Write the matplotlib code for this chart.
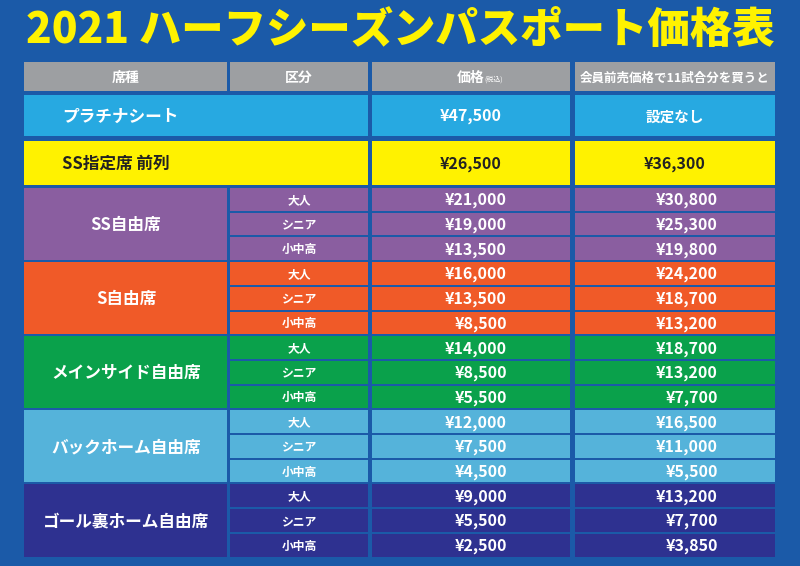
import matplotlib
matplotlib.use('Agg')
import matplotlib.pyplot as plt
from matplotlib.patches import Rectangle

plt.rcParams['font.family'] = ['Noto Sans CJK JP', 'DejaVu Sans']

title = '2021 ハーフシーズンパスポート価格表'
headers = ['席種', '区分', '価格', '会員前売価格で11試合分を買うと']

single_seats = ['プラチナシート', 'SS指定席 前列']
single_price = ['¥47,500', '¥26,500']
single_member = ['設定なし', '¥36,300']
single_colors = ['#27a9e1', '#fff200']

groups = ['SS自由席', 'S自由席', 'メインサイド自由席', 'バックホーム自由席', 'ゴール裏ホーム自由席']
group_colors = ['#8a5ea0', '#f05a28', '#0aa14b', '#55b3da', '#2e3190']
kubun = ['大人', 'シニア', '小中高']
prices = [['¥21,000', '¥19,000', '¥13,500'],
          ['¥16,000', '¥13,500', '¥8,500'],
          ['¥14,000', '¥8,500', '¥5,500'],
          ['¥12,000', '¥7,500', '¥4,500'],
          ['¥9,000', '¥5,500', '¥2,500']]
member = [['¥30,800', '¥25,300', '¥19,800'],
          ['¥24,200', '¥18,700', '¥13,200'],
          ['¥18,700', '¥13,200', '¥7,700'],
          ['¥16,500', '¥11,000', '¥5,500'],
          ['¥13,200', '¥7,700', '¥3,850']]

fig = plt.figure(figsize=(8, 5.66), dpi=100)
fig.patch.set_facecolor('#1b5aa8')
ax = fig.add_axes([0, 0, 1, 1])
ax.set_xlim(0, 800)
ax.set_ylim(566, 0)
ax.axis('off')

cols = [(24, 227), (230, 368), (372, 570), (575, 775)]

def box(x0, x1, y0, y1, c):
    ax.add_patch(Rectangle((x0, y0), x1 - x0, y1 - y0, color=c, lw=0))

ax.text(400, 30, title, ha='center', va='center', fontsize=30.5,
        fontweight='heavy', color='#fff200')

# header
for (x0, x1), h in zip(cols, headers):
    box(x0, x1, 62, 91, '#9d9fa2')
    fs = 9 if len(h) > 4 else 10
    ax.text((x0 + x1) / 2, 78, h, ha='center', va='center', fontsize=fs,
            color='white', fontweight='bold')
ax.text(484, 80, '(税込)', ha='left', va='center', fontsize=5, color='white')

# single rows
rows_y = [(95, 136), (141, 185)]
for i, (y0, y1) in enumerate(rows_y):
    tc = 'white' if i == 0 else '#222222'
    box(cols[0][0], cols[1][1], y0, y1, single_colors[i])
    box(cols[2][0], cols[2][1], y0, y1, single_colors[i])
    box(cols[3][0], cols[3][1], y0, y1, single_colors[i])
    ym = (y0 + y1) / 2 + 1
    ax.text(62, ym, single_seats[i], ha='left', va='center', fontsize=12, color=tc, fontweight='bold')
    ax.text(471, ym, single_price[i], ha='center', va='center', fontsize=11.5, color=tc, fontweight='bold')
    ax.text(675, ym, single_member[i], ha='center', va='center', fontsize=10.5 if i == 0 else 11.5,
            color=tc, fontweight='bold')

# group rows
y = 188
sub_h = 24.7
for g, name in enumerate(groups):
    c = group_colors[g]
    box(cols[0][0], cols[0][1], y, y + 3 * sub_h - 2, c)
    ax.text(126, y + 1.5 * sub_h, name, ha='center', va='center', fontsize=12,
            color='white', fontweight='bold')
    for k in range(3):
        y0 = y + k * sub_h
        y1 = y0 + sub_h - 2
        ym = (y0 + y1) / 2 + 1
        for ci in (1, 2, 3):
            box(cols[ci][0], cols[ci][1], y0, y1, c)
        ax.text(299, ym, kubun[k], ha='center', va='center', fontsize=8.5, color='white', fontweight='bold')
        ax.text(507, ym, prices[g][k], ha='right', va='center', fontsize=11.5, color='white', fontweight='bold')
        ax.text(718, ym, member[g][k], ha='right', va='center', fontsize=11.5, color='white', fontweight='bold')
    y += 3 * sub_h

fig.savefig('out.png', dpi=100, facecolor=fig.get_facecolor())
